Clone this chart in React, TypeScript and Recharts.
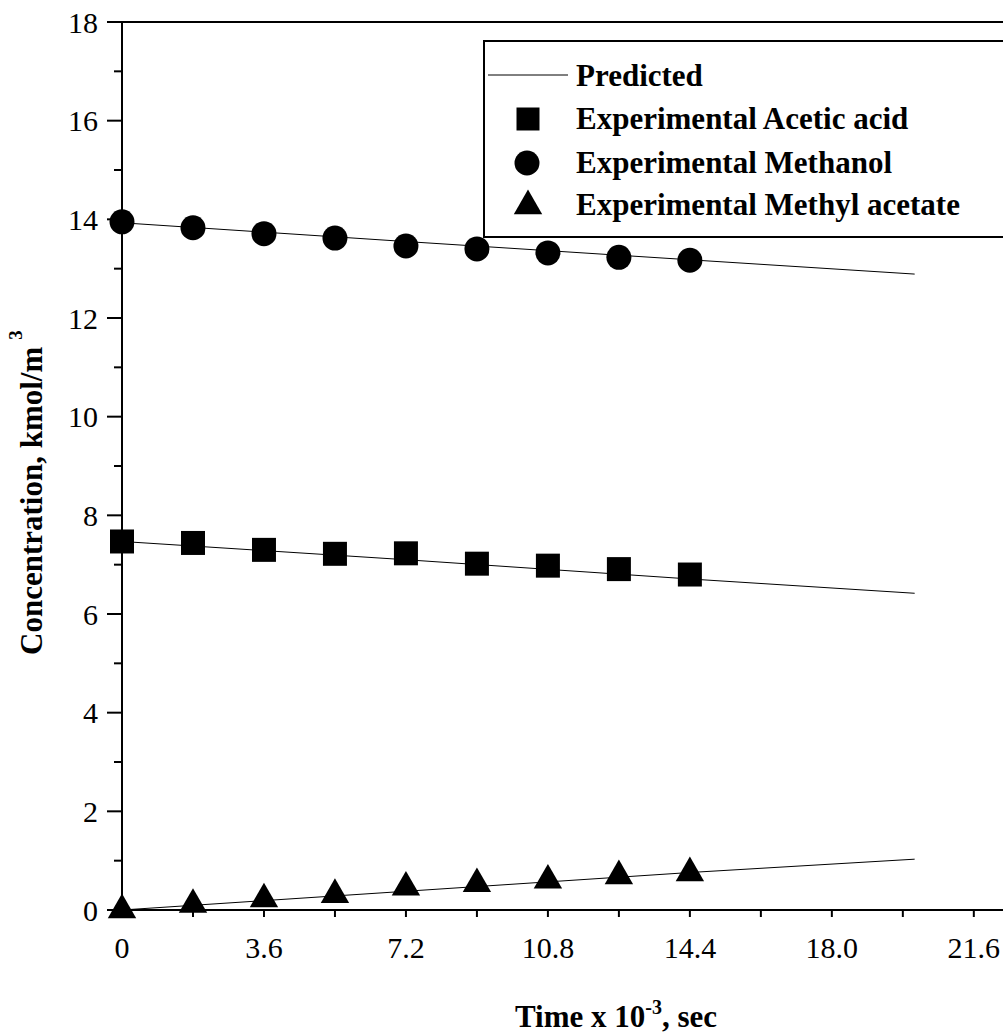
import React from "react";
import {
    ComposedChart,
    XAxis,
    YAxis,
    Line,
    Scatter,
    Legend,
    ReferenceLine,
    Symbols,
} from "recharts";

// experimental points (time x 10^-3 s, kmol/m3)
const timeExp = [0, 1.8, 3.6, 5.4, 7.2, 9.0, 10.8, 12.6, 14.4];
const aceticExp = [7.47, 7.44, 7.3, 7.22, 7.23, 7.02, 6.98, 6.91, 6.8];
const methanolExp = [13.95, 13.83, 13.71, 13.62, 13.46, 13.4, 13.32, 13.23, 13.17];
const methylExp = [0.0, 0.11, 0.22, 0.31, 0.46, 0.53, 0.6, 0.69, 0.75];

// predicted curves
const timePred = [0, 7.2, 14.4, 20.1];
const aceticPred = [7.47, 7.1, 6.71, 6.42];
const methanolPred = [13.93, 13.55, 13.18, 12.89];
const methylPred = [0, 0.38, 0.76, 1.03];

const xTicks = [0, 1.8, 3.6, 5.4, 7.2, 9.0, 10.8, 12.6, 14.4, 16.2, 18.0, 19.8, 21.6];
const xTickLabels = ["0", "", "3.6", "", "7.2", "", "10.8", "", "14.4", "", "18.0", "", "21.6"];
const yTicks = [0, 1, 2, 3, 4, 5, 6, 7, 8, 9, 10, 11, 12, 13, 14, 15, 16, 17, 18];
const yTickLabels = ["0", "", "2", "", "4", "", "6", "", "8", "", "10", "", "12", "", "14", "", "16", "", "18"];

const FONT = '"Liberation Serif", "Times New Roman", serif';

const zip = (xs: number[], ys: number[]) => xs.map((x, i) => ({ x, y: ys[i] }));

const YTick = (p: any) => {
    const i = yTicks.indexOf(p.payload.value);
    const major = i % 2 === 0;
    const ax = p.x + 24;
    return (
        <g>
            <line x1={ax - (major ? 15 : 8)} x2={ax} y1={p.y} y2={p.y} stroke="#000" strokeWidth={2} />
            {major && (
                <text x={p.x} y={p.y} dy="0.35em" textAnchor="end" fontFamily={FONT} fontSize={30} fill="#000">
                    {yTickLabels[i]}
                </text>
            )}
        </g>
    );
};

const XTick = (p: any) => {
    const i = xTicks.indexOf(p.payload.value);
    const ay = p.y - 27;
    return (
        <g>
            <line x1={p.x} x2={p.x} y1={ay} y2={ay + 7} stroke="#000" strokeWidth={2} />
            {xTickLabels[i] && (
                <text x={p.x} y={p.y} dy="0.71em" textAnchor="middle" fontFamily={FONT} fontSize={30} fill="#000">
                    {xTickLabels[i]}
                </text>
            )}
        </g>
    );
};

const YTitle = () => (
    <text
        x={42}
        y={655}
        transform="rotate(-90 42 655)"
        fontFamily={FONT}
        fontWeight="bold"
        fontSize={31}
        fill="#000"
    >
        Concentration, kmol/m
        <tspan fontSize={19} dy={-20} dx={7}>3</tspan>
    </text>
);

const XTitle = () => (
    <text x={515} y={1027} fontFamily={FONT} fontWeight="bold" fontSize={31} fill="#000">
        Time x 10
        <tspan fontSize={20} dy={-13}>-3</tspan>
        <tspan dy={13}>, sec</tspan>
    </text>
);

const LegendBox = () => (
    <div
        style={{
            width: 520,
            height: 198,
            boxSizing: "border-box",
            border: "2px solid #000",
            borderRight: "none",
            background: "#fff",
        }}
    >
        <svg width={518} height={194} style={{ display: "block", marginLeft: -2, marginTop: -2 }} overflow="visible">
            <line x1={5} x2={85} y1={35} y2={35} stroke="#000" strokeWidth={1} />
            <Symbols cx={45} cy={79} type="square" size={529} fill="#000" />
            <Symbols cx={44} cy={123} type="circle" size={491} fill="#000" />
            <Symbols cx={45} cy={166} type="triangle" size={349} fill="#000" />
            <g fontFamily={FONT} fontWeight="bold" fontSize={31} fill="#000">
                <text x={93} y={46}>Predicted</text>
                <text x={93} y={89}>Experimental Acetic acid</text>
                <text x={93} y={133}>Experimental Methanol</text>
                <text x={93} y={175}>Experimental Methyl acetate</text>
            </g>
        </svg>
    </div>
);

const ConcentrationChart = () => {
    return (
        <ComposedChart width={1003} height={1036} margin={{ top: 22, right: 0, bottom: 0, left: 0 }}>
            <XAxis
                type="number"
                dataKey="x"
                domain={[0, 22.34]}
                ticks={xTicks}
                interval={0}
                tick={<XTick />}
                tickLine={false}
                tickSize={7}
                tickMargin={20}
                height={126}
                axisLine={{ stroke: "#000", strokeWidth: 2 }}
                label={<XTitle />}
            />
            <YAxis
                type="number"
                domain={[0, 18]}
                ticks={yTicks}
                interval={0}
                tick={<YTick />}
                tickLine={false}
                tickSize={15}
                tickMargin={9}
                width={122}
                axisLine={{ stroke: "#000", strokeWidth: 2 }}
                label={<YTitle />}
            />
            <ReferenceLine y={18} stroke="#000" strokeWidth={2} />
            <Line data={zip(timePred, aceticPred)} dataKey="y" stroke="#000" strokeWidth={1} dot={false} activeDot={false} isAnimationActive={false} />
            <Line data={zip(timePred, methanolPred)} dataKey="y" stroke="#000" strokeWidth={1} dot={false} activeDot={false} isAnimationActive={false} />
            <Line data={zip(timePred, methylPred)} dataKey="y" stroke="#000" strokeWidth={1} dot={false} activeDot={false} isAnimationActive={false} />
            <Scatter
                data={zip(timeExp, aceticExp)}
                dataKey="y"
                isAnimationActive={false}
                shape={(p: any) => <Symbols cx={p.cx} cy={p.cy} type="square" size={576} fill="#000" />}
            />
            <Scatter
                data={zip(timeExp, methanolExp)}
                dataKey="y"
                isAnimationActive={false}
                shape={(p: any) => <Symbols cx={p.cx} cy={p.cy} type="circle" size={491} fill="#000" />}
            />
            <Scatter
                data={zip(timeExp, methylExp)}
                dataKey="y"
                isAnimationActive={false}
                shape={(p: any) => <Symbols cx={p.cx} cy={p.cy} type="triangle" size={349} fill="#000" />}
            />
            <Legend
                layout="horizontal"
                verticalAlign="middle"
                align="center"
                content={() => <LegendBox />}
                wrapperStyle={{ left: 483, top: 40, width: 520, height: 198 }}
            />
        </ComposedChart>
    );
};

export default function App() {
    return (
        <div style={{ position: "absolute", left: 0, top: 0, width: 1003, height: 1036, overflow: "hidden", background: "#fff" }}>
            <ConcentrationChart />
        </div>
    );
}
